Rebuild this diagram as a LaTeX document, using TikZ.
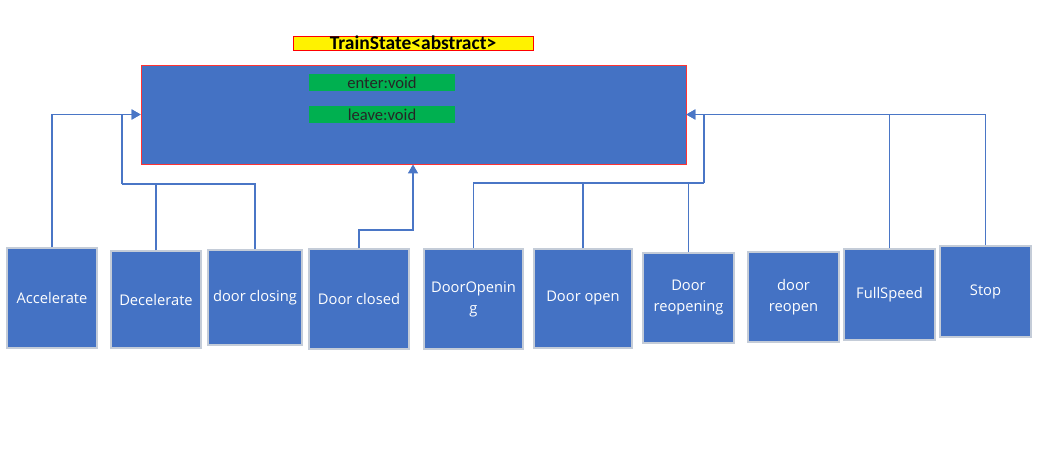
\documentclass[tikz,border=0pt]{standalone}
\usepackage{fontspec}
\setmainfont{Open Sans}
\newfontfamily\calfont{Carlito}
\usetikzlibrary{arrows.meta}
\definecolor{bx}{HTML}{4472C4}
\definecolor{gr}{HTML}{00B050}
\definecolor{bd}{HTML}{C4CCD8}
\definecolor{ln}{HTML}{4A76C6}
\tikzset{
  statebox/.style={draw=bd, line width=1.2pt, fill=bx, text=white, inner sep=0pt, align=center,
    font=\fontsize{14.7}{21}\selectfont},
  conn/.style={draw=ln, line width=1.3pt},
  arr/.style={conn, -{Triangle[length=9pt,width=10pt]}},
  greenbox/.style={fill=gr, inner sep=0pt, minimum width=146pt, minimum height=17pt,
    font=\calfont\fontsize{16.6}{18}\selectfont, text=black!85},
}
\begin{document}
\begin{tikzpicture}[x=1pt,y=-1pt]
\useasboundingbox (0,0) rectangle (1060,469);
% title
\node[draw=red, line width=0.8pt, fill=yellow, minimum width=240pt, minimum height=14pt, inner sep=0pt,
  font=\calfont\bfseries\fontsize{19.5}{16}\selectfont] (title) at (413,43) {TrainState<abstract>};
% main
\node[draw=red!80, line width=0.8pt, fill=bx, minimum width=545pt, minimum height=99pt, inner sep=0pt] (main) at (413.5,114.5) {};
\node[greenbox] (enter) at (382,82.5) {enter:void};
\node[greenbox] (leave) at (382,114.5) {leave:void};
% states
\node[statebox, minimum width=90pt, minimum height=100pt] (acc) at (52,298) {Accelerate};
\node[statebox, minimum width=90pt, minimum height=97pt] (dec) at (156,299.5) {Decelerate};
\node[statebox, minimum width=94pt, minimum height=95pt] (dcl) at (255,297.5) {door closing};
\node[statebox, minimum width=100pt, minimum height=100pt] (dcd) at (359,299) {Door closed};
\node[statebox, minimum width=99pt, minimum height=100pt] (dop) at (473.5,299) {DoorOpenin\\g};
\node[statebox, minimum width=98pt, minimum height=99pt] (don) at (583,298.5) {Door open};
\node[statebox, minimum width=91pt, minimum height=90pt] (dre) at (688.5,298) {Door\\reopening};
\node[statebox, minimum width=91pt, minimum height=90pt] (drn) at (793.5,297) {door\\reopen};
\node[statebox, minimum width=91pt, minimum height=91pt] (fs) at (889.5,294.5) {FullSpeed};
\node[statebox, minimum width=91pt, minimum height=91pt] (stop) at (985.5,291.5) {Stop};
% connectors
\coordinate (jl) at (122,184);
\coordinate (kc) at (413,230);
\coordinate (jr) at (704,183);
\draw[arr] (acc.north) |- (main.west);
\draw[conn] (dec.north) |- (jl);
\draw[conn] (dcl.north) |- (jl);
\draw[arr] (jl) |- (main.west);
\draw[arr] (dcd.north) |- (kc) -- (kc |- main.south);
\draw[conn] (dop.north) |- (jr);
\draw[conn] (don.north) -- (don.north |- jr);
\draw[conn] (dre.north) -- (dre.north |- jr);
\draw[arr] (jr) |- (main.east);
\draw[conn] (fs.north) -- (fs.north |- main.east);
\draw[arr] (stop.north) |- (main.east);
\end{tikzpicture}
\end{document}
